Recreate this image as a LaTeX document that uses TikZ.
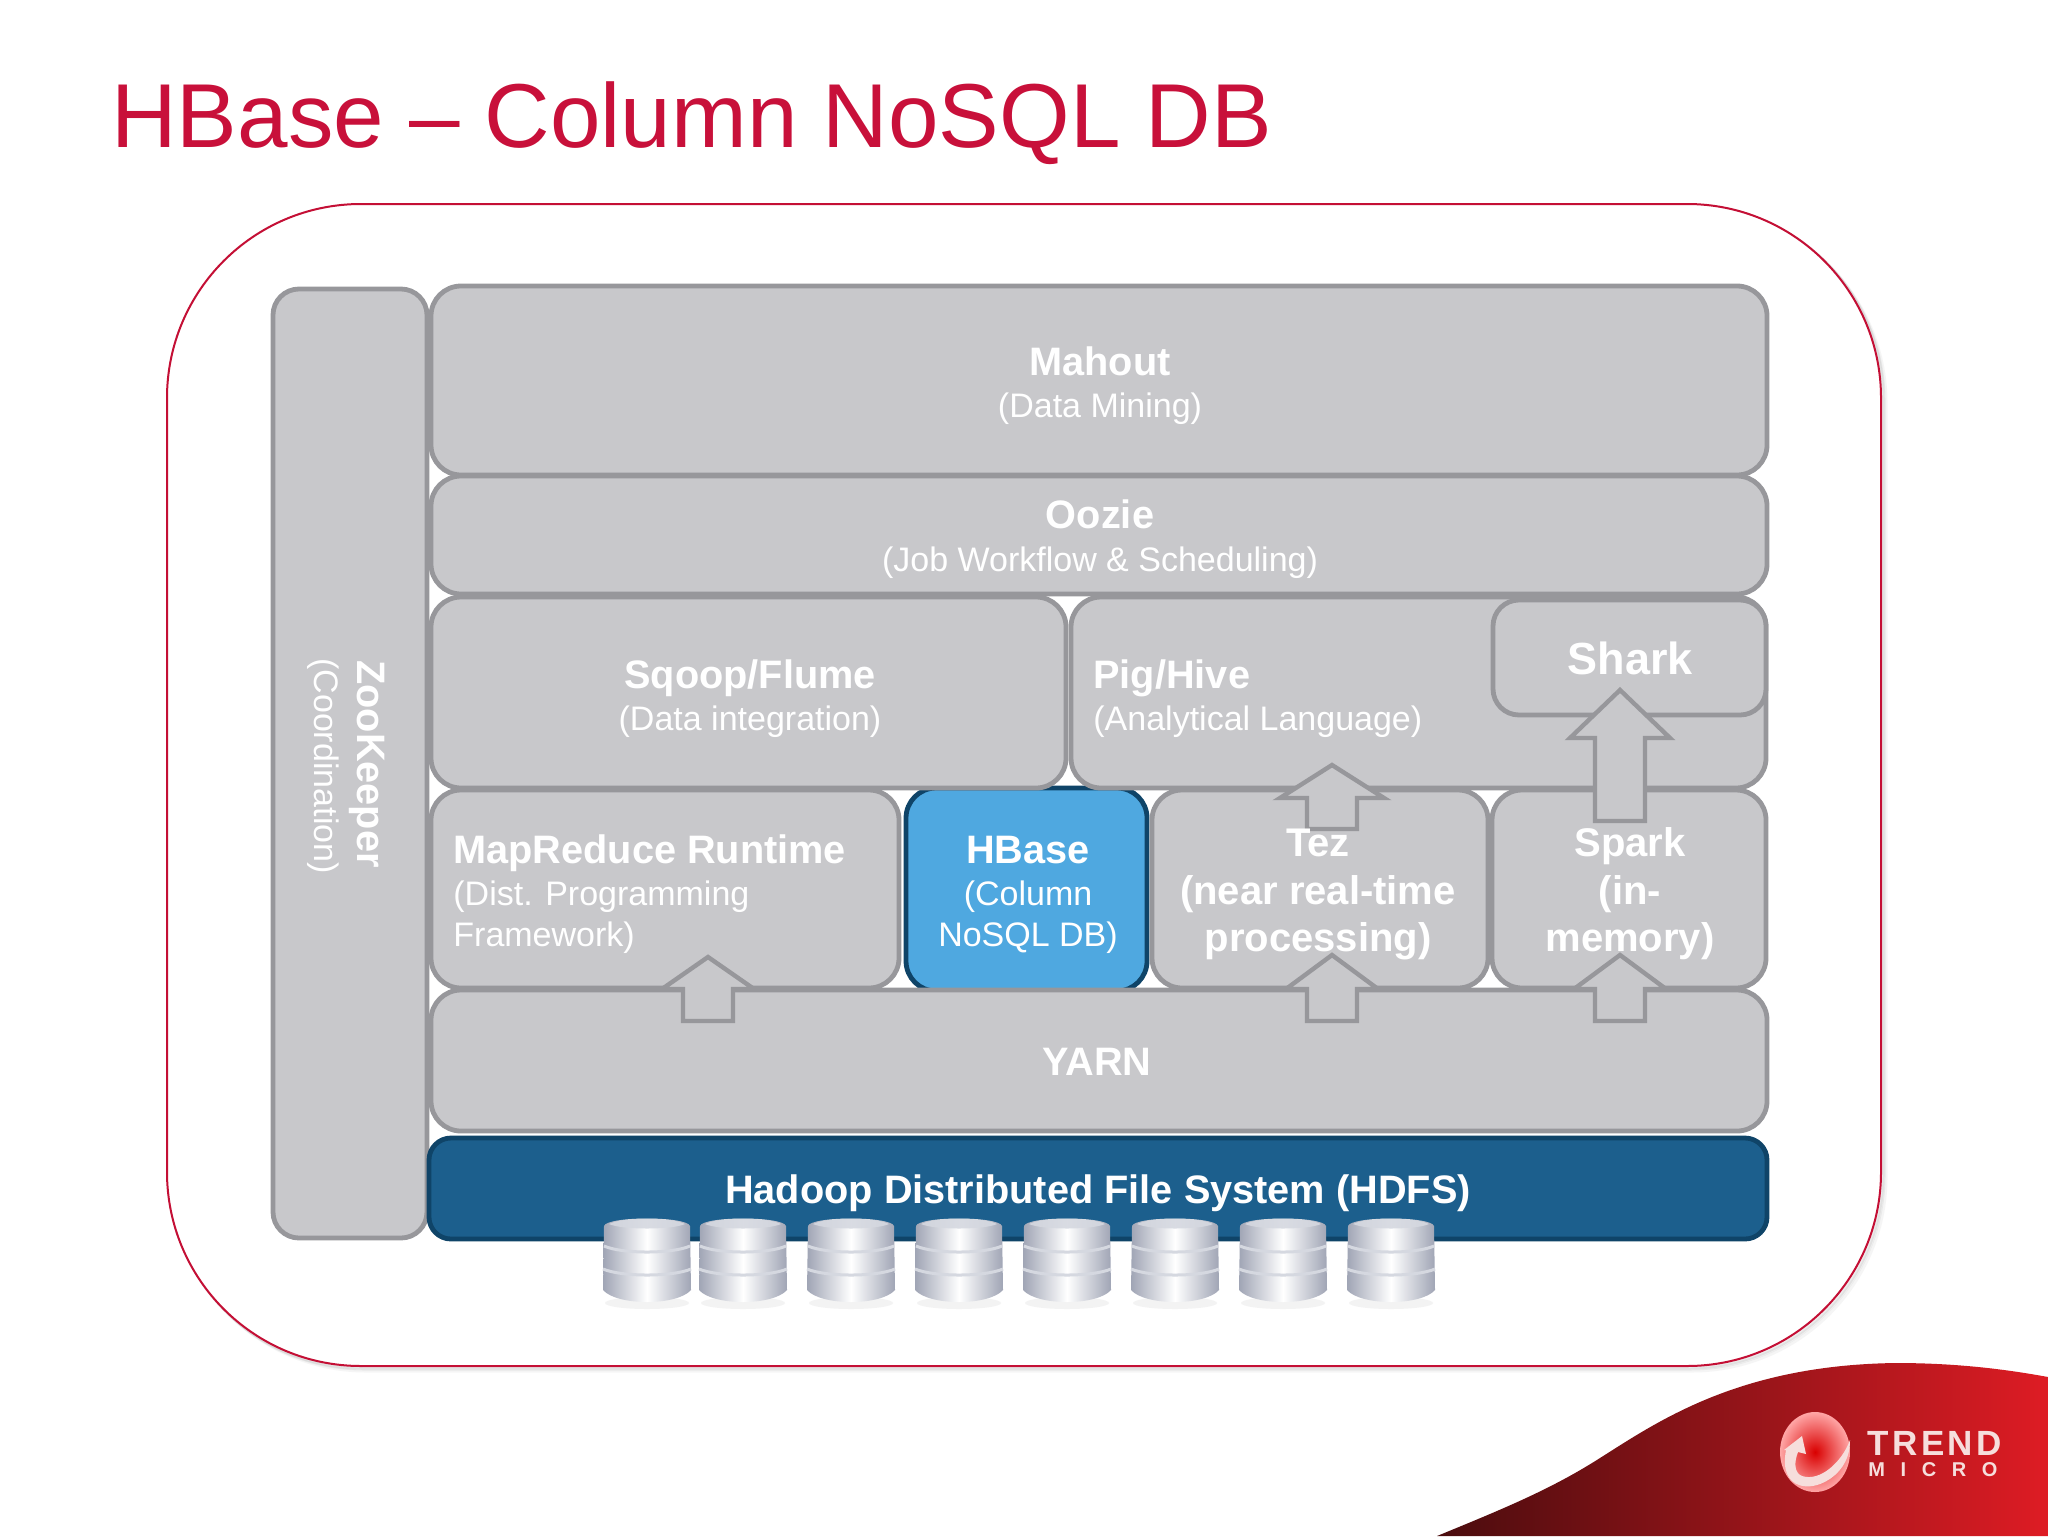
\documentclass[tikz,border=0pt]{standalone}
\usepackage{fontspec}
\setmainfont{Liberation Sans}
\definecolor{titlered}{HTML}{C8103A}
\definecolor{framered}{HTML}{C40F35}
\definecolor{boxfill}{HTML}{C8C8CB}
\definecolor{boxline}{HTML}{97979B}
\definecolor{hdfsfill}{HTML}{1C5F8D}
\definecolor{hdfsline}{HTML}{0F4468}
\definecolor{hbasefill}{HTML}{4FA8E0}
\definecolor{cyledge}{HTML}{A0A5B5}
\definecolor{cylband}{HTML}{D5D8E0}
\definecolor{swooshdark}{HTML}{4A0C0E}
\definecolor{swooshmid}{HTML}{8E1518}
\definecolor{swooshred}{HTML}{DE1C24}
\definecolor{logotext}{HTML}{F6DEDC}
\tikzset{
  layerbox/.style={draw=boxline,fill=boxfill,line width=2.4pt,rounded corners=15pt,inner sep=0pt,outer sep=0pt},
  darkbox/.style={layerbox,draw=hdfsline,fill=hdfsfill,rounded corners=11pt},
  bluebox/.style={layerbox,draw=hdfsline,fill=hbasefill},
  headtxt/.style={anchor=base,inner sep=0pt,text=white,font=\fontsize{19.85}{24}\selectfont\bfseries},
  bigtxt/.style={headtxt,font=\fontsize{20}{25}\selectfont\bfseries},
  subtxt/.style={anchor=base,inner sep=0pt,text=white,font=\fontsize{17}{20}\selectfont},
  uparrow/.style={draw=boxline,fill=boxfill,line width=2.2pt,line join=miter,miter limit=4},
}
% name, x1, y1, x2, y2, style
\newcommand{\layer}[6]{%
  \pgfmathsetmacro{\wdv}{(#4-#2)*0.5}\pgfmathsetmacro{\htv}{(#5-#3)*0.5}%
  \node[#6,minimum width=\wdv pt,minimum height=\htv pt] (#1) at ({(#2+#4)/2},{(#3+#5)/2}) {};}
% x, apex y, wing y, bottom y, wing half width
\newcommand{\blockup}[5]{%
  \draw[uparrow] (#1,#2) -- (#1+#5,#3) -- (#1+25,#3) -- (#1+25,#4) -- (#1-25,#4) -- (#1-25,#3) -- (#1-#5,#3) -- cycle;}
\newcommand{\diskstack}[1]{%
  \begin{scope}[shift={(#1,0)}]
    \fill[black!8,opacity=.6] (0,1303) ellipse (42 and 6);
    \shade[left color=cyledge,right color=cyledge,middle color=white]
      (-43,1226) .. controls (-40,1216) and (40,1216) .. (43,1226) -- (44,1290) .. controls (30,1306) and (-30,1306) .. (-44,1290) -- cycle;
    \fill[cylband,opacity=.9] (-38,1224) .. controls (-25,1217) and (25,1217) .. (38,1224) .. controls (25,1230) and (-25,1230) .. (-38,1224) -- cycle;
    \draw[cylband,line width=1.5pt] (-43,1246) .. controls (-25,1254) and (25,1254) .. (43,1246);
    \draw[cylband,line width=1.5pt] (-44,1269) .. controls (-25,1277) and (25,1277) .. (44,1269);
  \end{scope}}
\begin{document}
\begin{tikzpicture}[x=0.5pt,y=-0.5pt]
\useasboundingbox (0,0) rectangle (2048,1536);
\fill[white] (0,0) rectangle (2048,1536);
% title
\node[anchor=base west,inner sep=0pt,text=titlered,font=\fontsize{45.4}{54}\selectfont] (title) at (111,148) {HBase – Column NoSQL DB};
% frame
\foreach \off/\op in {5/.10,3/.16,2/.2}{
  \draw[black!35,opacity=\op,line width=1.5pt,rounded corners=97pt] (167+\off,204+\off) rectangle (1881+\off,1366+\off);}
\node[draw=framered,fill=white,line width=1pt,rounded corners=97pt,inner sep=0pt,minimum width=857pt,minimum height=581pt] (frame) at (1024,785) {};
% layers
\layer{zoo}{273}{289}{427}{1238}{layerbox,rounded corners=13pt}
\layer{hdfs}{429}{1138}{1767}{1239}{darkbox}
\layer{hbase}{906}{788}{1147}{991}{bluebox}
\layer{yarn}{431}{990}{1767}{1131}{layerbox}
\layer{mapred}{431}{790}{899}{988}{layerbox}
\layer{tez}{1152}{790}{1488}{988}{layerbox}
\layer{spark}{1492}{790}{1766}{988}{layerbox}
\layer{sqoop}{431}{597}{1066}{788}{layerbox}
\layer{pig}{1071}{597}{1766}{788}{layerbox}
\layer{shark}{1493}{600}{1766}{715}{layerbox,rounded corners=13pt}
\layer{oozie}{431}{476}{1767}{594}{layerbox}
\layer{mahout}{431}{286}{1767}{475}{layerbox}
% disks
\foreach \cx in {647,743,851,959,1067,1175,1283,1391}{\diskstack{\cx}}
% block arrows
\blockup{708}{957}{989}{1021}{46}
\blockup{1332}{955}{989}{1021}{46}
\blockup{1620}{955}{989}{1021}{46}
\blockup{1332}{765}{798}{829}{52}
\blockup{1620}{690}{738}{821}{50}
% labels
\node[headtxt] (tmahout) at (1100,375) {Mahout};
\node[subtxt] (smahout) at (1100,417) {(Data Mining)};
\node[headtxt] (toozie) at (1100,528) {Oozie};
\node[subtxt] (soozie) at (1100,571) {(Job Workflow \& Scheduling)};
\node[headtxt] (tsqoop) at (750,688) {Sqoop/Flume};
\node[subtxt] (ssqoop) at (750,730) {(Data integration)};
\node[headtxt,anchor=base west] (tpig) at (1093,688) {Pig/Hive};
\node[subtxt,anchor=base west] (spig) at (1093,730) {(Analytical Language)};
\node[headtxt,font=\fontsize{22.5}{27}\selectfont\bfseries] (tshark) at (1630,674) {Shark};
\node[headtxt,anchor=base west] (tmap) at (453,863) {MapReduce Runtime};
\node[subtxt,anchor=base west] (smapa) at (453,905) {(Dist. Programming};
\node[subtxt,anchor=base west] (smapb) at (453,946) {Framework)};
\node[headtxt] (thbase) at (1028,863) {HBase};
\node[subtxt] (shbasea) at (1028,905) {(Column};
\node[subtxt] (shbaseb) at (1028,946) {NoSQL DB)};
\node[bigtxt] (ttez) at (1318,856) {Tez};
\node[bigtxt] (stea) at (1318,904) {(near real-time};
\node[bigtxt] (steb) at (1318,951) {processing)};
\node[bigtxt] (tspark) at (1630,856) {Spark};
\node[bigtxt] (sspa) at (1630,904) {(in-};
\node[bigtxt] (sspb) at (1630,951) {memory)};
\node[headtxt] (tyarn) at (1097,1075) {YARN};
\node[headtxt] (thdfs) at (1098,1203) {Hadoop Distributed File System (HDFS)};
\node[headtxt,rotate=-90] (tzoo) at (357,764) {ZooKeeper};
\node[subtxt,rotate=-90] (szoo) at (314,766) {(Coordination)};
% swoosh
\shade[left color=swooshdark,middle color=swooshmid,right color=swooshred]
  (1437,1536) .. controls (1500,1510) and (1550,1490) .. (1600,1458)
  .. controls (1660,1420) and (1740,1365) .. (1896,1363)
  .. controls (1960,1363) and (2010,1370) .. (2048,1377) -- (2048,1536) -- cycle;
% logo
\shade[inner color=red!85!black,outer color=red!35!white] (1815,1452) ellipse (35 and 40);
\fill[logotext] (1786,1450) .. controls (1778,1490) and (1812,1495) .. (1835,1475)
  .. controls (1848,1463) and (1850,1450) .. (1850,1440)
  .. controls (1842,1462) and (1820,1482) .. (1802,1476)
  .. controls (1794,1473) and (1794,1462) .. (1798,1452) -- (1806,1454) -- (1802,1436) -- (1784,1450) -- cycle;
\node[anchor=base west,inner sep=0pt,text=logotext,font=\fontsize{17.5}{20}\selectfont\bfseries\addfontfeatures{LetterSpace=10}] (trend) at (1867,1455) {TREND};
\node[anchor=base west,inner sep=0pt,text=logotext,font=\fontsize{10}{11}\selectfont\bfseries\addfontfeatures{LetterSpace=78}] (micro) at (1868,1476) {MICRO};
\end{tikzpicture}
\end{document}
